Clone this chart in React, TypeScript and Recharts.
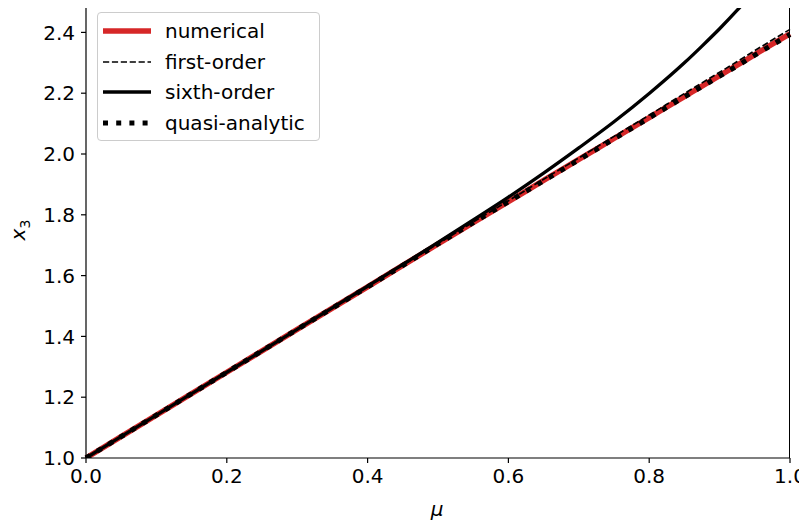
import {
  LineChart,
  Line,
  XAxis,
  YAxis,
} from "recharts";

// values
const mu = [0, 0.1, 0.2, 0.3, 0.4, 0.5, 0.55, 0.6, 0.65, 0.7, 0.75, 0.8, 0.85, 0.875, 0.9, 0.925, 0.95, 1.0];
const numerical = [1.0, 1.141, 1.282, 1.423, 1.563, 1.704, 1.774, 1.843, 1.913, 1.982, 2.051, 2.12, 2.189, 2.223, 2.258, 2.292, 2.327, 2.395];
const firstOrder = [1.0, 1.141, 1.282, 1.423, 1.564, 1.705, 1.776, 1.846, 1.917, 1.987, 2.058, 2.128, 2.199, 2.234, 2.269, 2.304, 2.34, 2.41];
const sixthOrder = [1.0, 1.141, 1.282, 1.423, 1.565, 1.709, 1.783, 1.858, 1.937, 2.02, 2.106, 2.199, 2.3, 2.355, 2.412, 2.473, 2.538, 2.68];
const quasiAnalytic = [1.0, 1.141, 1.282, 1.423, 1.563, 1.704, 1.774, 1.843, 1.912, 1.981, 2.05, 2.119, 2.188, 2.222, 2.256, 2.29, 2.325, 2.393];

const xTicks = [0, 0.2, 0.4, 0.6, 0.8, 1.0];
const yTicks = [1.0, 1.2, 1.4, 1.6, 1.8, 2.0, 2.2, 2.4];

const data = mu.map((m, i) => ({
  mu: m,
  numerical: numerical[i],
  firstOrder: firstOrder[i],
  sixthOrder: sixthOrder[i],
  quasiAnalytic: quasiAnalytic[i],
}));

const font = "'DejaVu Sans', sans-serif";
const fs = 20;

const legendItems = [
  { label: "numerical", stroke: "#d62728", width: 5.5, dash: undefined },
  { label: "first-order", stroke: "#000", width: 1.7, dash: "6.2 2.7" },
  { label: "sixth-order", stroke: "#000", width: 3.3, dash: undefined },
  { label: "quasi-analytic", stroke: "#000", width: 5, dash: "5 8.2" },
];

const LegendBox = () => (
  <div
    style={{
      position: "absolute",
      left: 97,
      top: 12,
      width: 223,
      height: 129,
      border: "1px solid #cccccc",
      borderRadius: 4,
      background: "rgba(255,255,255,0.8)",
      boxSizing: "border-box",
      fontFamily: font,
      fontSize: fs,
      paddingTop: 3,
    }}
  >
    {legendItems.map((it) => (
      <div key={it.label} style={{ height: 30.5, display: "flex", alignItems: "center" }}>
        <svg width={63} height={20} style={{ marginLeft: 4, flexShrink: 0 }}>
          <line
            x1={1}
            x2={49}
            y1={10}
            y2={10}
            stroke={it.stroke}
            strokeWidth={it.width}
            strokeDasharray={it.dash}
          />
        </svg>
        <span style={{ color: "#000", whiteSpace: "nowrap" }}>{it.label}</span>
      </div>
    ))}
  </div>
);

const YLabel = () => (
  <text x={25} y={230} transform="rotate(-90 25 230)" textAnchor="middle" fontFamily={font} fontSize={fs}>
    <tspan fontStyle="italic">x</tspan>
    <tspan fontSize={14} dy={5}>3</tspan>
  </text>
);

const XLabel = () => (
  <text x={437} y={516} textAnchor="middle" fontFamily={font} fontSize={fs} fontStyle="italic">
    μ
  </text>
);

// top and right spines of the axes box
const Frame = () => (
  <div
    style={{
      position: "absolute",
      left: 86,
      top: 1,
      width: 704,
      height: 457,
      borderTop: "1.5px solid #000",
      borderRight: "1.5px solid #000",
      boxSizing: "border-box",
      pointerEvents: "none",
    }}
  />
);

export default function App() {
  return (
    <div style={{ margin: -8, width: 807, height: 529, background: "#fff", position: "relative" }}>
      <LineChart width={807} height={529} data={data} margin={{ top: 2, right: 17, bottom: 0, left: 0 }}>
        <XAxis
          dataKey="mu"
          type="number"
          domain={[0, 1]}
          ticks={xTicks}
          tickFormatter={(v: number) => v.toFixed(1)}
          tickSize={5}
          tickMargin={6}
          height={71}
          stroke="#000"
          strokeWidth={1.2}
          tick={{ fill: "#000", fontFamily: font, fontSize: fs }}
          label={<XLabel />}
        />
        <YAxis
          type="number"
          domain={[1, 2.5]}
          allowDataOverflow
          ticks={yTicks}
          tickFormatter={(v: number) => v.toFixed(1)}
          tickSize={5}
          tickMargin={6}
          width={86}
          stroke="#000"
          strokeWidth={1.2}
          tick={{ fill: "#000", fontFamily: font, fontSize: fs }}
          label={<YLabel />}
        />
        <Line type="monotone" dataKey="numerical" stroke="#d62728" strokeWidth={5.5} dot={false} isAnimationActive={false} />
        <Line type="monotone" dataKey="firstOrder" stroke="#000" strokeWidth={1.7} strokeDasharray="6.2 2.7" dot={false} isAnimationActive={false} />
        <Line type="monotone" dataKey="sixthOrder" stroke="#000" strokeWidth={3.3} dot={false} isAnimationActive={false} />
        <Line type="monotone" dataKey="quasiAnalytic" stroke="#000" strokeWidth={5} strokeDasharray="5 8.2" dot={false} isAnimationActive={false} />
      </LineChart>
      <Frame />
      <LegendBox />
    </div>
  );
}
